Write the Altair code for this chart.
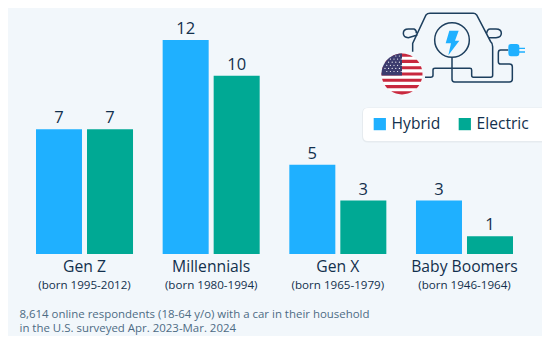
import math
import altair as alt
import pandas as pd

generations = ["Gen Z", "Millennials", "Gen X", "Baby Boomers"]
births = ["(born 1995-2012)", "(born 1980-1994)", "(born 1965-1979)", "(born 1946-1964)"]
series_names = ["Hybrid", "Electric"]
hybrid = [7, 12, 5, 3]
electric = [7, 10, 3, 1]
footnote = ["8,614 online respondents (18-64 y/o) with a car in their household",
            "in the U.S. surveyed Apr. 2023-Mar. 2024"]
colors = ["#1fb0ff", "#00a994"]
PANEL = "#f2f7fb"
INK = "#12304d"
FONT = "Open Sans"

df = pd.DataFrame(
    [{"gen": g, "series": "Hybrid", "value": v} for g, v in zip(generations, hybrid)]
    + [{"gen": g, "series": "Electric", "value": v} for g, v in zip(generations, electric)]
)
labels = pd.DataFrame({"gen": generations, "birth": births})
one = pd.DataFrame({"a": [0]})

x = alt.X("gen:N", sort=generations, axis=None,
          scale=alt.Scale(range=[28, 505], paddingInner=0.234, paddingOuter=0, round=False))
xo = alt.XOffset("series:N", sort=series_names,
                 scale=alt.Scale(paddingInner=0.098, paddingOuter=0))
y = alt.Y("value:Q", axis=None, scale=alt.Scale(domain=[0, 13.8], range=[246, 0], nice=False))

bars = alt.Chart(df).mark_bar().encode(
    x=x, xOffset=xo, y=y,
    color=alt.Color("series:N", sort=series_names,
                    scale=alt.Scale(domain=series_names, range=colors),
                    legend=alt.Legend(title=None, orient="none", legendX=364, legendY=108,
                                      direction="horizontal", symbolType="square", symbolSize=150,
                                      symbolStrokeWidth=0, labelFont=FONT, labelFontSize=15.6,
                                      labelColor=INK, columnPadding=16, labelOffset=4, padding=0)),
)
values = alt.Chart(df).mark_text(font=FONT, fontSize=16.5, color=INK, dy=-11, fontWeight=500).encode(
    x=x, xOffset=xo, y=y, text="value:Q")
names = alt.Chart(labels).mark_text(font=FONT, fontSize=15.7, color=INK).encode(
    x=x, y=alt.value(259), text="gen:N")
sub = alt.Chart(labels).mark_text(font=FONT, fontSize=11.6, color=INK).encode(
    x=x, y=alt.value(278), text="birth:N")
notes = [
    alt.Chart(one).mark_text(font=FONT, fontSize=11.45, color="#4d6b84", align="left").encode(
        x=alt.value(11.5), y=alt.value(306.5 + 14 * i), text=alt.value(t))
    for i, t in enumerate(footnote)
]


def shape(path, scale=1 / 3, ox=332, oy=-8, **kw):
    return alt.Chart(one).mark_point(shape=path, size=(2 * scale) ** 2, opacity=1, **kw).encode(
        x=alt.value(ox), y=alt.value(oy))


# legend card (pixels, origin at card corner)
card = "M5 0H200V33H5Q0 33 0 28V5Q0 0 5 0Z"
card_shadow = shape(card, scale=1, ox=355, oy=100.5, filled=True, fill="#dfe5ea", stroke="#e6ebef", strokeWidth=2)
card_top = shape(card, scale=1, ox=355, oy=100, filled=True, fill="#ffffff", strokeWidth=0)

# icon, drawn in 3x reference pixels
LINE = dict(filled=False, stroke="#1d3f5e", strokeWidth=1.5)
body = ("M218 155L218 130L258 45Q262 40 270 40L400 40Q406 40 410 45L452 125Q458 130 458 140"
        "L458 226Q458 232 452 232L400 232Q395 232 395 226L395 210Q395 205 390 205L285 205"
        "Q279 205 279 210L279 226Q279 232 272 232L255 232")
mirror_l = "M232 105L205 113Q190 113 190 100Q190 87 205 87L222 87Q230 90 229 100"
mirror_r = "M440 100Q442 87 450 87L468 87Q484 87 484 100Q484 113 468 113L447 113"
circle = "M388 120A52 52 0 1 1 284 120A52 52 0 1 1 388 120Z"
cable = ("M336 172L336 238Q336 246 344 246L508 246Q517 246 517 238L517 200Q517 192 508 192"
         "L482 192Q475 192 475 185L475 158Q475 150 482 150L505 150")
bolt = "M328 92L356 92L345 122L358 122L325 166L333 130L317 130Z"
plug = ("M505 140Q505 132 513 132L530 132Q538 132 538 140L538 143L555 143L555 147L538 147L538 154L555 154"
        "L555 158L538 158L538 160Q538 169 530 169L513 169Q505 169 505 160Z")

icon = [shape(p, **LINE) for p in (body, mirror_l, mirror_r, circle, cable)]
icon += [shape(p, filled=True, fill="#1fb0ff", strokeWidth=0) for p in (bolt, plug)]

# flag, pixels relative to its centre
R = 20.5
flag_base = "M%g 0A%g %g 0 1 1 %g 0A%g %g 0 1 1 %g 0Z" % (R, R, R, -R, R, R, R)
stripe_h = 2 * R / 13
parts = []
for i in range(0, 13, 2):
    y0, y1 = -R + i * stripe_h + 0.01, -R + (i + 1) * stripe_h - 0.01
    x0, x1 = math.sqrt(max(R * R - y0 * y0, 0)), math.sqrt(max(R * R - y1 * y1, 0))
    parts.append("M%.2f %.2fL%.2f %.2fA%g %g 0 0 1 %.2f %.2fL%.2f %.2fA%g %g 0 0 1 %.2f %.2fZ"
                 % (-x0, y0, x0, y0, R, R, x1, y1, -x1, y1, R, R, -x0, y0))
stripes = "".join(parts)
cy = -R + 7 * stripe_h
canton = "M0 %.2fL0 %.2fL%.2f %.2fA%g %g 0 0 1 %.2f %.2fZ" % (
    -R, cy, -math.sqrt(R * R - cy * cy), cy, R, R, 0, -R)
stars = ""
for row in range(6):
    for col in range(5):
        sx = -17 + col * 3.6 + (1.8 if row % 2 else 0)
        sy = -18 + row * 3.1
        if sx * sx + sy * sy < (R - 1) ** 2 and sx < -0.5 and sy < cy - 0.5:
            stars += "M%.2f %.2fm-0.6 0a0.6 0.6 0 1 0 1.2 0a0.6 0.6 0 1 0 -1.2 0Z" % (sx, sy)

FX, FY = 394, 66
flag = [
    shape(flag_base, scale=1, ox=FX, oy=FY, filled=True, fill="#ffffff", strokeWidth=0),
    shape(stripes, scale=1, ox=FX, oy=FY, filled=True, fill="#c8283e", strokeWidth=0),
    shape(canton, scale=1, ox=FX, oy=FY, filled=True, fill="#3c3b6e", strokeWidth=0),
    shape(stars, scale=1, ox=FX, oy=FY, filled=True, fill="#ffffff", strokeWidth=0),
]

chart = alt.layer(
    card_shadow, card_top, *icon, *flag, bars, values, names, sub, *notes
).properties(
    width=534, height=246, background=PANEL,
    padding={"left": 0, "top": 0, "right": 0, "bottom": 82},
    autosize=alt.AutoSizeParams(type="none"),
).resolve_scale(x="shared").configure_view(stroke=None)

chart.save("out.html", embed_options={"renderer": "svg", "actions": False})
